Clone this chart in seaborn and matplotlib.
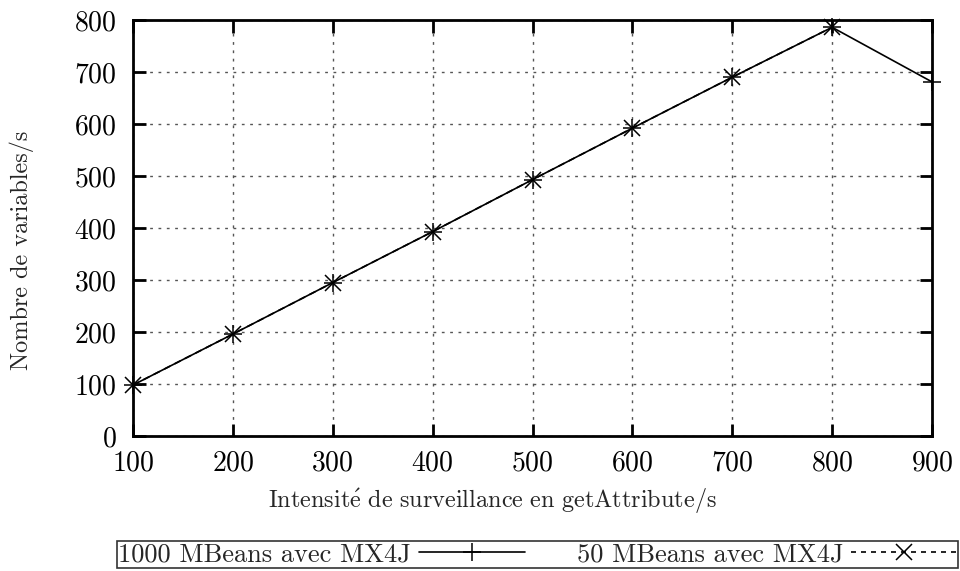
import matplotlib
matplotlib.use("Agg")
import matplotlib.pyplot as plt
import seaborn as sns
import pandas as pd
from matplotlib.lines import Line2D

# Data
intensite = [100, 200, 300, 400, 500, 600, 700, 800, 900]
mbeans_1000 = [98, 196, 295, 393, 493, 592, 690, 786, 681]
intensite_50 = [100, 200, 300, 400, 500, 600, 700, 800]
mbeans_50 = [98, 196, 295, 393, 493, 592, 690, 786]
label_1000 = "1000 MBeans avec MX4J"
label_50 = "50 MBeans avec MX4J"
xlabel = r"$\mathrm{Intensit\acute{e}\ de\ surveillance\ en\ getAttribute/s}$"
ylabel = "Nombre de variables/s"
xticks = [100, 200, 300, 400, 500, 600, 700, 800, 900]
yticks = [0, 100, 200, 300, 400, 500, 600, 700, 800]

sns.set_style("ticks")
plt.rcParams["font.family"] = ["cmr10", "DejaVu Serif"]
plt.rcParams["mathtext.fontset"] = "cm"
plt.rcParams["axes.formatter.use_mathtext"] = True
plt.rcParams["axes.unicode_minus"] = False

fig = plt.figure(figsize=(9.6, 5.71), dpi=100)
ax = fig.add_axes([133 / 960, 1 - 436 / 571, (932 - 133) / 960, (436 - 20) / 571])

df1 = pd.DataFrame({"x": intensite, "y": mbeans_1000})
df2 = pd.DataFrame({"x": intensite_50, "y": mbeans_50})

sns.lineplot(data=df1, x="x", y="y", ax=ax, color="black", lw=1.2,
             marker="+", markersize=13, markeredgewidth=1.1, markeredgecolor="black",
             clip_on=False, zorder=3)
sns.lineplot(data=df2, x="x", y="y", ax=ax, color="black", lw=1.2, linestyle=(0, (4, 3)),
             marker="x", markersize=11, markeredgewidth=1.1, markeredgecolor="black",
             clip_on=False, zorder=3)

ax.set_xlim(100, 900)
ax.set_ylim(0, 800)
ax.set_xticks(xticks)
ax.set_yticks(yticks)
ax.grid(True, color="#555555", linestyle=(0, (2, 4)), linewidth=1.0)
for s in ax.spines.values():
    s.set_linewidth(2.0)
    s.set_color("black")
    s.set_visible(True)
ax.tick_params(direction="in", length=9, width=2, top=True, right=True,
               labelsize=20, colors="black")
ax.tick_params(axis="x", pad=10)
ax.tick_params(axis="y", pad=12)
ax.set_xlabel(xlabel, fontsize=17.5)
ax.set_ylabel(ylabel, fontsize=17.5)
ax.xaxis.set_label_coords((492 - 133) / 799, (436 - 486) / 416)
ax.yaxis.set_label_coords((34 - 133) / 799, (436 - 250) / 416)

handles = [
    Line2D([], [], color="black", lw=1.2, marker="+", markersize=13, markeredgewidth=1.1),
    Line2D([], [], color="black", lw=1.2, linestyle=(0, (3, 3)), marker="x", markersize=11, markeredgewidth=1.1),
]
leg = fig.legend(handles, [label_1000, label_50], loc="center",
                 bbox_to_anchor=(117 / 960, 1 - 566 / 571, 841 / 960, 23 / 571),
                 mode="expand", ncol=2, markerfirst=False,
                 frameon=True, fancybox=False, edgecolor="black", fontsize=19,
                 handlelength=4.0, borderpad=0.05, handletextpad=0.3,
                 borderaxespad=0)
leg.get_frame().set_linewidth(1.2)

fig.savefig("out.png", dpi=100)
